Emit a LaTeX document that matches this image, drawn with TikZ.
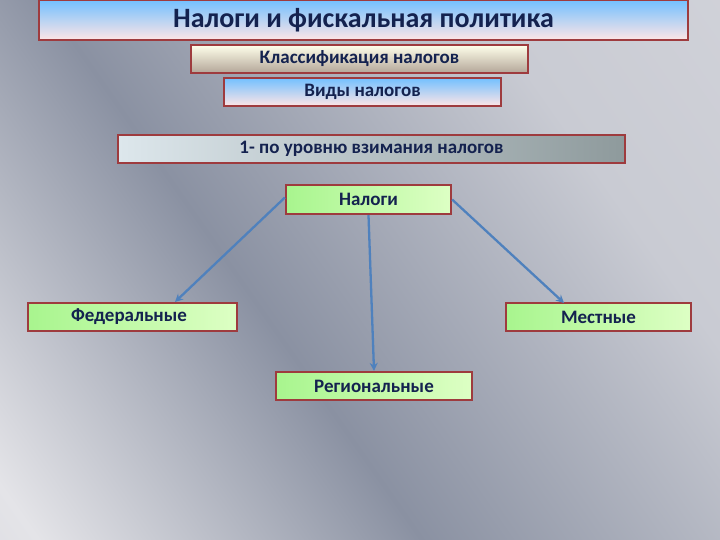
\documentclass[tikz,border=0pt]{standalone}
\usepackage{fontspec}
\setmainfont{Carlito}
\usetikzlibrary{arrows.meta}
\definecolor{frame}{HTML}{9E3B3E}
\definecolor{ink}{HTML}{14224F}
\definecolor{arr}{HTML}{4F81BD}
\definecolor{bgA}{HTML}{C9CBD3}
\definecolor{bgB}{HTML}{8A91A2}
\definecolor{bgC}{HTML}{E4E4E8}
\definecolor{bgD}{HTML}{A3A8B6}
\definecolor{lvlL}{HTML}{DDE7EC}
\definecolor{lvlR}{HTML}{8E9A9C}
\definecolor{grL}{HTML}{A8F58E}
\definecolor{grR}{HTML}{DDFFC4}
\pgfdeclarehorizontalshading{bgshade}{100bp}{color(0bp)=(bgD); color(30bp)=(bgC); color(45bp)=(bgB); color(62bp)=(bgA); color(100bp)=(bgC)}
\tikzset{
  box/.style={draw=frame, line width=2.2pt, inner sep=0pt, font=\fontsize{19}{22}\selectfont\bfseries, text=ink},
  bluebox/.style={box, top color=blue!45!cyan!55, bottom color=white!90!red},
  greybox/.style={box, top color=white!92!yellow, bottom color=brown!30!gray!70},
  levelbox/.style={box, left color=lvlL, right color=lvlR},
  greenbox/.style={box, left color=grL, right color=grR},
  conn/.style={draw=arr, line width=2.3pt, -{Stealth[length=8pt,width=8pt]}}
}
\begin{document}
\begin{tikzpicture}[x=1pt,y=-1pt]
\useasboundingbox (0,0) rectangle (720,540);
\shade[shading=bgshade, shading angle=35] (-200,-200) rectangle (920,740);
\node[bluebox, minimum width=649pt, minimum height=40pt, font=\fontsize{28}{32}\selectfont\bfseries] (title) at (363.5,20) {Налоги и фискальная политика};
\node[greybox, minimum width=337pt, minimum height=28pt] (klass) at (359.5,59) {Классификация налогов};
\node[bluebox, minimum width=277pt, minimum height=28pt] (vidy) at (362.5,92) {Виды налогов};
\node[levelbox, minimum width=507pt, minimum height=28pt] (level) at (371.5,149) {1- по уровню взимания налогов};
\node[greenbox, minimum width=165pt, minimum height=29pt] (nalogi) at (368.5,199.5) {Налоги};
\node[greenbox, minimum width=209pt, minimum height=28pt, text width=195pt, align=left] (fed) at (132.5,317) {\hspace*{36pt}Федеральные};
\node[greenbox, minimum width=185pt, minimum height=28pt, text width=175pt, align=left] (mest) at (598.5,317) {\hspace*{50pt}Местные};
\node[greenbox, minimum width=196pt, minimum height=28pt] (reg) at (374,386) {Региональные};
\draw[conn] (nalogi.west) ++(0,-2) -- (175,302);
\draw[conn] (nalogi.south) -- (reg.north);
\draw[conn] (nalogi.east) -- (564,303);
\end{tikzpicture}
\end{document}
